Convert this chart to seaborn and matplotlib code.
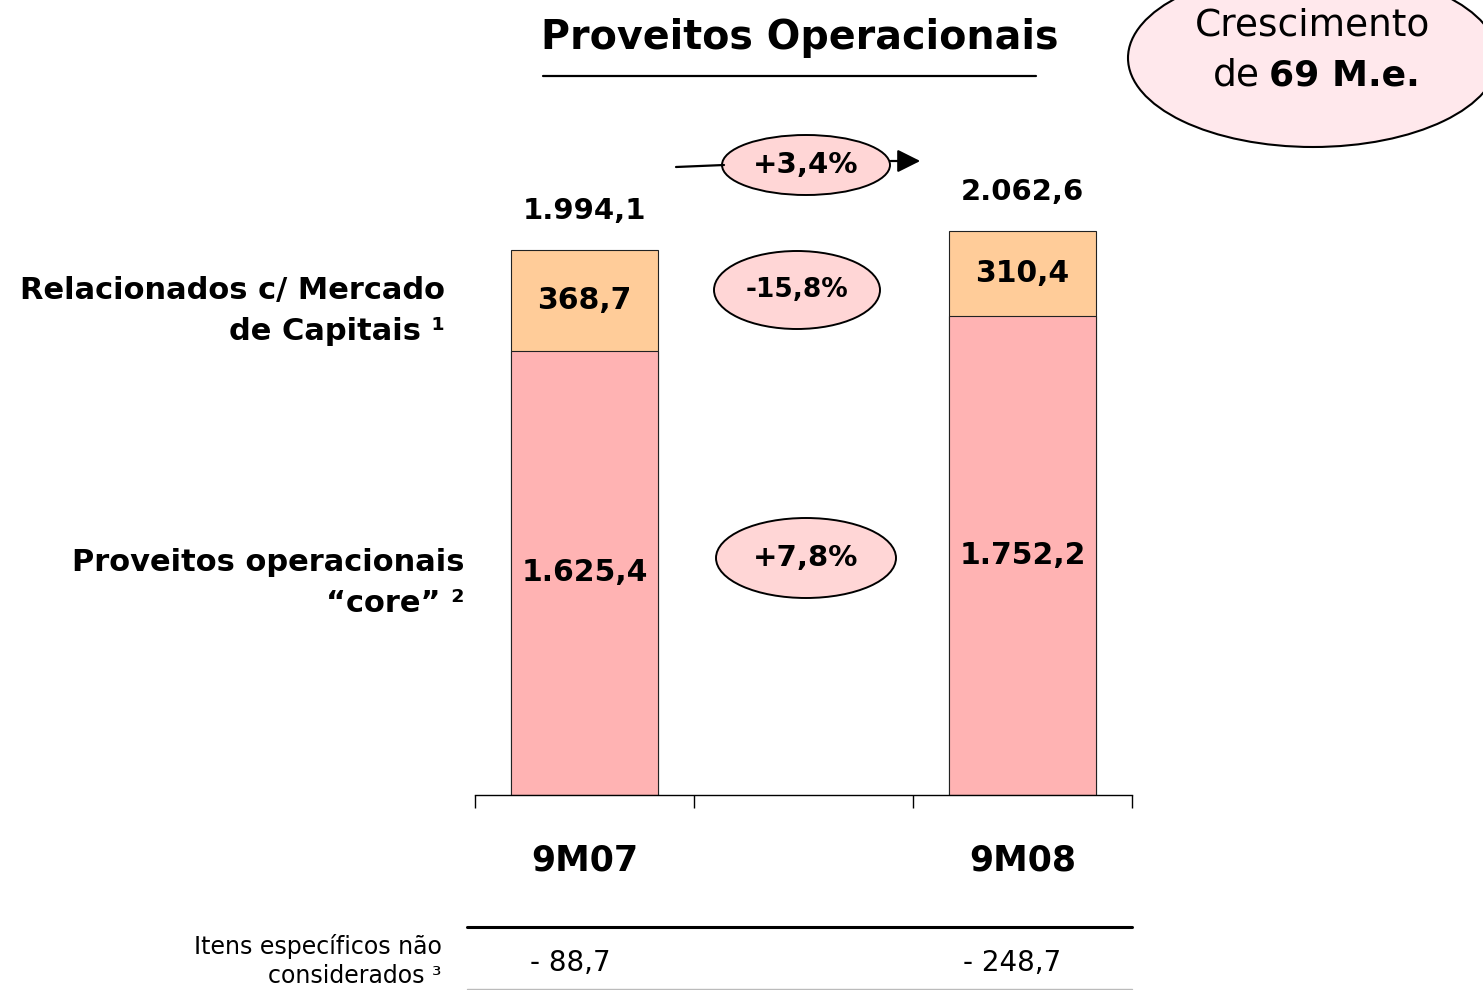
import matplotlib
matplotlib.use("Agg")
import matplotlib.pyplot as plt
import seaborn as sns
import pandas as pd
from matplotlib.patches import Ellipse, FancyArrowPatch
from matplotlib.lines import Line2D

# ---- data ----
categories = ["9M07", "9M08"]
order = ["9M07", " ", "9M08"]
core = [1625.4, 1752.2]
capital = [368.7, 310.4]
totals = [1994.1, 2062.6]
growth_total = "+3,4%"
growth_capital = "-15,8%"
growth_core = "+7,8%"
specific_items = ["- 88,7", "- 248,7"]
title = "Proveitos Operacionais"
row_labels = ["Relacionados c/ Mercado\nde Capitais ¹", "Proveitos operacionais\n“core” ²"]
bottom_label = "Itens específicos não\nconsiderados ³"

W, H = 1483, 990
sns.set_theme(style="white")
plt.rcParams["font.family"] = ["DejaVu Sans"]
plt.rcParams["text.color"] = "black"

fig = plt.figure(figsize=(W / 100, H / 100), dpi=100)


def fx(x):
    return x / W


def fy(y):
    return 1 - y / H


def fmt(v):
    s = f"{v:,.1f}"
    return s.replace(",", "X").replace(".", ",").replace("X", ".")


# main axes: x from 475 to 1132 px, baseline at 795 px
ymax = 2200
px_per_unit = 545 / 1994.1
ax_h = ymax * px_per_unit
ax = fig.add_axes([fx(475), fy(795), (1132 - 475) / W, ax_h / H])

df = pd.DataFrame({"cat": categories, "total": totals, "core": core, "capital": capital})
sns.barplot(data=df, x="cat", y="total", order=order, color="#FFCC99", saturation=1,
            width=0.667, edgecolor="#222222", linewidth=0.8, ax=ax)
sns.barplot(data=df, x="cat", y="core", order=order, color="#FFB3B3", saturation=1,
            width=0.667, edgecolor="#222222", linewidth=0.8, ax=ax)

ax.set_xlim(-0.5, 2.5)
ax.set_ylim(0, ymax)
ax.set_xlabel("")
ax.set_ylabel("")
ax.set_yticks([])
for s in ["top", "right", "left"]:
    ax.spines[s].set_visible(False)
ax.spines["bottom"].set_color("black")
ax.spines["bottom"].set_linewidth(1.0)
ax.set_xticks([-0.5, 0.5, 1.5, 2.5])
ax.set_xticklabels([])
ax.tick_params(axis="x", bottom=True, direction="out", length=9.5, width=1.0, color="black")

pos = {c: order.index(c) for c in categories}
for i, c in enumerate(categories):
    x = pos[c]
    ax.text(x, core[i] / 2, fmt(core[i]), ha="center", va="center",
            fontsize=21.5, fontweight="bold", color="black")
    ax.text(x, core[i] + capital[i] / 2, fmt(capital[i]), ha="center", va="center",
            fontsize=21.5, fontweight="bold", color="black")
    ax.annotate(fmt(totals[i]), (x, totals[i]), xytext=(0, 28), textcoords="offset points",
                ha="center", va="center", fontsize=21, fontweight="bold", color="black")
    # category label
    ax.annotate(c, (x, 0), xytext=(0, -47), textcoords="offset points",
                ha="center", va="center", fontsize=25, fontweight="bold", color="black")
    # specific items
    fig.text(fx(570 if i == 0 else 1012), fy(963), specific_items[i], ha="center", va="center",
             fontsize=20, color="black")

# title
fig.text(fx(800), fy(38), title, ha="center", va="center", fontsize=28.5, fontweight="bold")
fig.add_artist(Line2D([fx(543), fx(1036)], [fy(76), fy(76)], color="black", lw=1.6))

# big ellipse top-right
fig.add_artist(Ellipse((fx(1313), fy(58)), 370 / W, 178 / H, facecolor="#FFE8EC",
                       edgecolor="black", lw=1.5, transform=fig.transFigure))
fig.text(fx(1313), fy(26), "Crescimento", ha="center", va="center", fontsize=27)
fig.text(fx(1260), fy(76), "de", ha="right", va="center", fontsize=27)
fig.text(fx(1269), fy(76), "69 M.e.", ha="left", va="center", fontsize=26, fontweight="bold")

# growth ellipses
def growth(cx, cy, w, h, txt, fs):
    fig.add_artist(Ellipse((fx(cx), fy(cy)), w / W, h / H, facecolor="#FFD6D6",
                           edgecolor="black", lw=1.4, transform=fig.transFigure))
    fig.text(fx(cx), fy(cy), txt, ha="center", va="center", fontsize=fs, fontweight="bold")


fig.add_artist(Line2D([fx(676), fx(724)], [fy(167), fy(165)], color="black", lw=1.6))
fig.add_artist(FancyArrowPatch((fx(888), fy(161)), (fx(923), fy(161)), transform=fig.transFigure,
                               arrowstyle="-|>,head_length=14,head_width=7", color="black",
                               lw=1.6, mutation_scale=1))
growth(806, 165, 168, 60, growth_total, 21)
growth(797, 290, 166, 78, growth_capital, 19)
growth(806, 558, 180, 80, growth_core, 21)

# left labels
fig.text(fx(445), fy(311), row_labels[0], ha="right", va="center", fontsize=22,
         fontweight="bold", linespacing=1.55)
fig.text(fx(465), fy(583), row_labels[1], ha="right", va="center", fontsize=22,
         fontweight="bold", linespacing=1.55)

# bottom row
fig.add_artist(Line2D([fx(467), fx(1132)], [fy(927), fy(927)], color="black", lw=2.2))
fig.add_artist(Line2D([fx(467), fx(1132)], [fy(989), fy(989)], color="#bbbbbb", lw=1.0))
fig.text(fx(442), fy(961), bottom_label, ha="right", va="center", fontsize=17,
         linespacing=1.3)

fig.savefig("out.png", dpi=100)
